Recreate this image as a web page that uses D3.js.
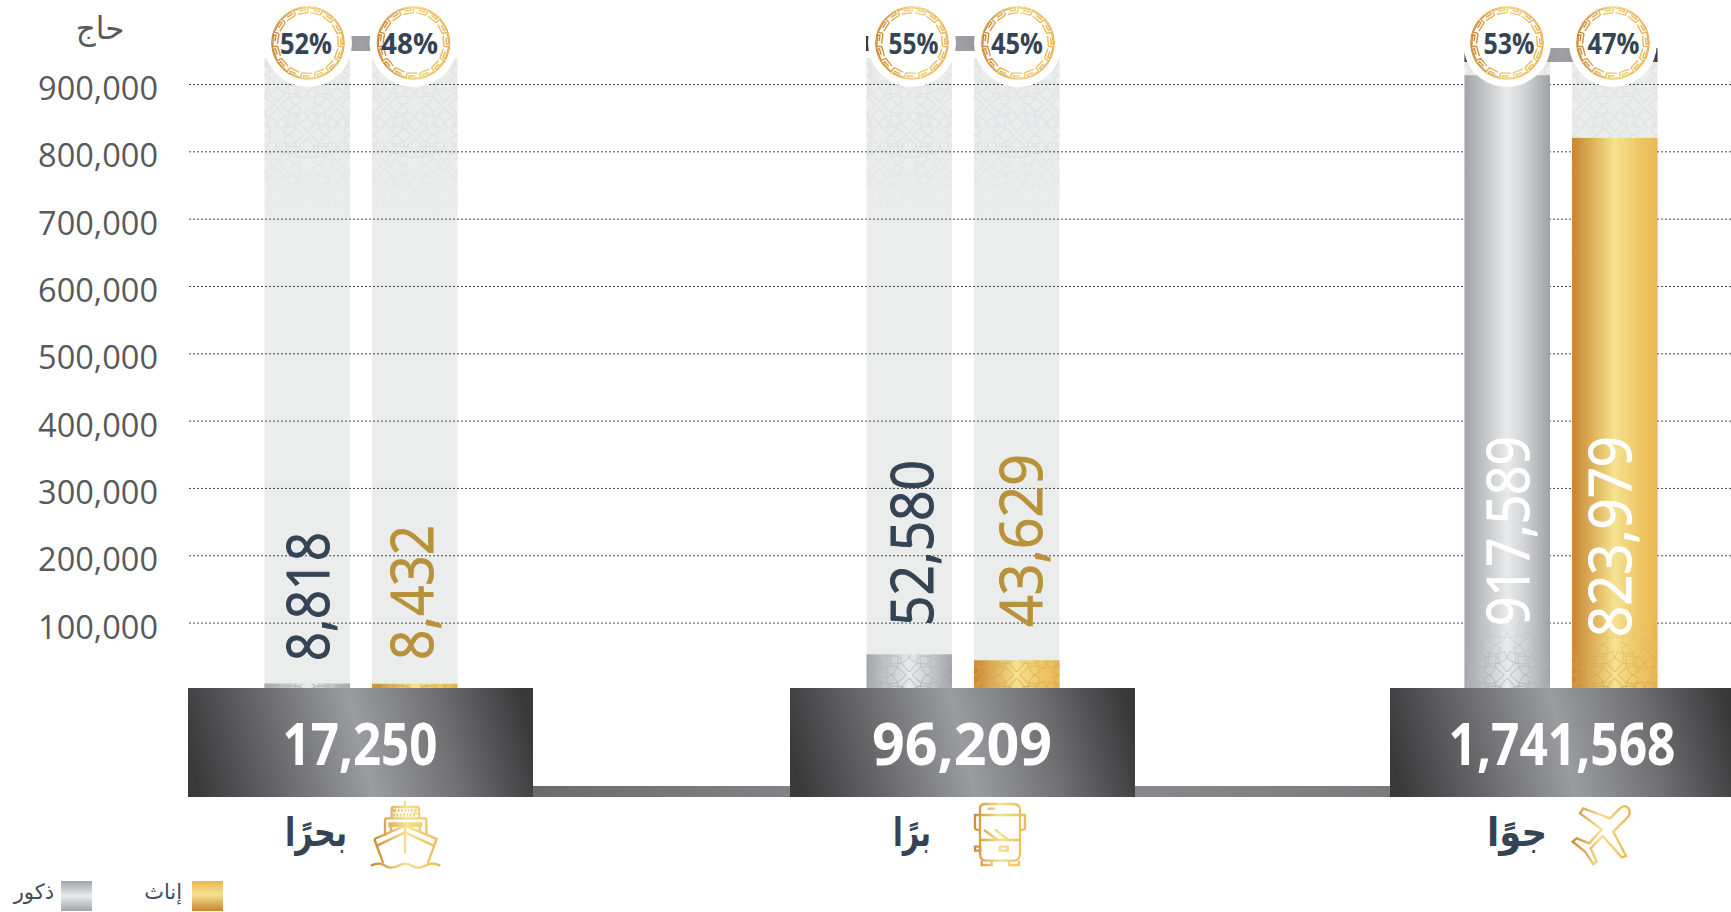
<!DOCTYPE html>
<html lang="ar">
<head>
    <meta charset="UTF-8">
    <title>الحجاج حسب منفذ القدوم</title>
    <script src="https://d3js.org/d3.v7.min.js"></script>
    <style>
        html, body { margin: 0; padding: 0; background: #fff; overflow: hidden; }
        svg { display: block; }
        text { font-family: "Open Sans", "DejaVu Sans", sans-serif; }
        .arabic { font-family: "DejaVu Sans", "Noto Sans", sans-serif; }
        .grid .domain { display: none; }
        .grid line { stroke: #4a4a4a; stroke-width: 1; stroke-dasharray: 2 2; }
        .grid text { font-size: 32.5px; fill: #58595b; }
    </style>
</head>
<body>
<div id="chart"></div>

<script>
    // Data
    const modes = ["sea", "land", "air"];
    const modeNames = ["بحرًا", "برًا", "جوًا"];
    const genders = ["male", "female"];
    const genderNames = ["ذكور", "إناث"];
    const maleValues = [8818, 52580, 917589];
    const femaleValues = [8432, 43629, 823979];
    const totals = [17250, 96209, 1741568];
    const malePct = [52, 55, 53];
    const femalePct = [48, 45, 47];
    const yTicks = [100000, 200000, 300000, 400000, 500000, 600000, 700000, 800000, 900000];
    const unitLabel = "حاج";

    const width = 1731, height = 912;
    const baseTop = 688, baseBottom = 797, baseWidth = 345;
    const fmt = d3.format(",");

    const svg = d3.select("#chart").append("svg").attr("width", width).attr("height", height);
    const defs = svg.append("defs");

    // y(900k) = 84, y(100k) = 622.6
    const y = d3.scaleLinear().domain([100000, 900000]).range([622.6, 84]);
    // the bars in the original sit a little off the printed grid
    const yBar = d3.scaleLinear().domain([0, 900000]).range([689.5, 87]);
    const xGroup = d3.scaleOrdinal().domain(modes).range([361, 963, 1561]);
    const xBar = d3.scaleBand().domain(genders).range([-96.5, 96.5]).paddingInner(22 / 107);

    function gradient(id, stops, attrs) {
        const g = defs.append("linearGradient").attr("id", id);
        Object.entries(attrs || {}).forEach(([k, v]) => g.attr(k, v));
        stops.forEach(s => g.append("stop").attr("offset", s[0]).attr("stop-color", s[1]));
    }

    const goldStops = [[0, "#c8842e"], [0.5, "#f5e290"], [0.78, "#efc766"], [1, "#ebb655"]];
    gradient("male", [[0, "#a3a4a7"], [0.5, "#e9eaeb"], [0.72, "#cfd0d2"], [1, "#a0a1a4"]]);
    gradient("female", goldStops);
    gradient("base", [[0, "#3a3a3b"], [0.25, "#6a6a6d"], [0.5, "#9b9ca0"], [0.75, "#707073"], [1, "#39393a"]],
        { x1: 0, y1: 0.54, x2: 1, y2: 0.46 });
    gradient("connector", [[0, "#6b6b6e"], [0.5, "#929296"], [1, "#7b7b7e"]]);
    gradient("strip", [[0, "#2e2e2f"], [0.03, "#77777a"], [0.5, "#a0a0a4"], [0.97, "#77777a"], [1, "#2e2e2f"]]);
    gradient("ring", [[0, "#c8802a"], [0.5, "#f0d27a"], [1, "#e8ae4c"]],
        { gradientUnits: "userSpaceOnUse", x1: -37, x2: 37, y1: 0, y2: 0 });
    gradient("legendMale", [[0, "#a3a4a7"], [0.5, "#e9eaeb"], [1, "#a3a4a7"]], { x1: 0, y1: 0, x2: 0, y2: 1 });
    gradient("legendFemale", [[0, "#ebb655"], [0.45, "#f5e290"], [1, "#c8842e"]], { x1: 0, y1: 0, x2: 0, y2: 1 });

    // fades for the ornament
    gradient("fadeTop", [[0, "#fff"], [0.55, "#fff"], [1, "#000"]],
        { gradientUnits: "userSpaceOnUse", x1: 0, x2: 0, y1: 58, y2: 215 });
    gradient("fadeBottom", [[0, "#000"], [1, "#fff"]],
        { gradientUnits: "userSpaceOnUse", x1: 0, x2: 0, y1: 612, y2: 685 });
    defs.append("mask").attr("id", "maskTop").attr("maskUnits", "userSpaceOnUse")
        .attr("x", -60).attr("y", 0).attr("width", 120).attr("height", height)
        .append("rect").attr("x", -60).attr("y", 0).attr("width", 120).attr("height", height).attr("fill", "url(#fadeTop)");
    defs.append("mask").attr("id", "maskBottom").attr("maskUnits", "userSpaceOnUse")
        .attr("x", -60).attr("y", 0).attr("width", 120).attr("height", height)
        .append("rect").attr("x", -60).attr("y", 0).attr("width", 120).attr("height", height).attr("fill", "url(#fadeBottom)");

    // star ornament, one tile with rosettes on the corners and in the middle
    function rosette(cx, cy) {
        let d = "";
        const star = d3.range(16).map(i => {
            const a = i * Math.PI / 8, r = i % 2 ? 7 : 13;
            return [cx + r * Math.sin(a), cy - r * Math.cos(a)];
        });
        d += "M" + star.join("L") + "Z";
        d3.range(8).forEach(i => {
            const a = i * Math.PI / 4, b = a + Math.PI / 8, c = a - Math.PI / 8;
            const p = (r, t) => [cx + r * Math.sin(t), cy - r * Math.cos(t)];
            d += "M" + p(13, a) + "L" + p(20, b) + "L" + p(27, a) + "L" + p(20, c) + "Z";
        });
        return d;
    }
    function ornament(id, color, width) {
        const p = defs.append("pattern").attr("id", id).attr("patternUnits", "userSpaceOnUse")
            .attr("width", 60).attr("height", 60)
            .attr("patternTransform", "translate(0,45)");
        [[0, 0], [60, 0], [0, 60], [60, 60], [30, 30]].forEach(c => {
            p.append("path").attr("d", rosette(c[0], c[1]))
                .attr("fill", "none").attr("stroke", color).attr("stroke-width", width);
        });
    }
    ornament("patBack", "#dfe1e3", 1.2);
    ornament("patMale", "#aeb2b7", 1);
    ornament("patFemale", "#d9a74e", 0.9);

    // light columns behind everything
    const groups = modes.map((m, i) => ({ mode: m, i: i, cx: xGroup(m) }));
    const bars = [];
    groups.forEach(g => {
        bars.push({ g: g, gender: "male", value: maleValues[g.i], pct: malePct[g.i], cx: g.cx + xBar("male") + xBar.bandwidth() / 2 });
        bars.push({ g: g, gender: "female", value: femaleValues[g.i], pct: femalePct[g.i], cx: g.cx + xBar("female") + xBar.bandwidth() / 2 });
    });

    const backs = svg.append("g").selectAll("g").data(bars).enter().append("g")
        .attr("transform", d => `translate(${d.cx},0)`);
    backs.append("rect")
        .attr("x", -xBar.bandwidth() / 2).attr("y", 58)
        .attr("width", xBar.bandwidth()).attr("height", baseTop - 58)
        .attr("fill", "#ebedec");
    backs.append("rect")
        .attr("x", -xBar.bandwidth() / 2).attr("y", 58)
        .attr("width", xBar.bandwidth()).attr("height", 160)
        .attr("fill", "url(#patBack)").attr("mask", "url(#maskTop)");

    // grid lines and tick labels
    const axis = d3.axisLeft(y).tickValues(yTicks).tickSize(-(width - 189)).tickPadding(31).tickFormat(fmt);
    const gridG = svg.append("g").attr("class", "grid").attr("transform", "translate(189,0)").call(axis);
    gridG.selectAll("text").attr("dy", "0.48em");

    svg.append("text").attr("class", "arabic")
        .attr("x", 100).attr("y", 39).attr("text-anchor", "middle")
        .attr("font-size", 31).attr("fill", "#58595b").text(unitLabel);

    // filled bars
    const fills = svg.append("g").selectAll("g").data(bars).enter().append("g")
        .attr("transform", d => `translate(${d.cx},0)`);
    fills.append("rect")
        .attr("x", -xBar.bandwidth() / 2).attr("y", d => yBar(d.value))
        .attr("width", xBar.bandwidth()).attr("height", d => baseTop - yBar(d.value))
        .attr("fill", d => `url(#${d.gender})`);
    fills.append("rect")
        .attr("x", -xBar.bandwidth() / 2).attr("y", d => yBar(d.value))
        .attr("width", xBar.bandwidth()).attr("height", d => baseTop - yBar(d.value))
        .attr("fill", d => d.gender === "male" ? "url(#patMale)" : "url(#patFemale)")
        .attr("mask", "url(#maskBottom)");

    // strip between the two percent badges
    const stripTop = [36, 36, 48];
    const stripHeight = [15, 15, 14];
    const stripLeft = [-90, -97, -96.5];
    const stripRight = [90, 90, 96.5];
    svg.append("g").selectAll("rect").data(groups).enter().append("rect")
        .attr("x", d => d.cx + stripLeft[d.i]).attr("y", d => stripTop[d.i])
        .attr("width", d => stripRight[d.i] - stripLeft[d.i]).attr("height", d => stripHeight[d.i])
        .attr("fill", "url(#strip)");

    // bases with the totals
    svg.append("rect").attr("x", 533).attr("y", 786).attr("width", 857).attr("height", 11).attr("fill", "url(#connector)");
    const baseCx = [360.5, 962.5, 1562.5];
    svg.append("g").selectAll("rect").data(groups).enter().append("rect")
        .attr("x", d => baseCx[d.i] - baseWidth / 2).attr("y", baseTop)
        .attr("width", baseWidth).attr("height", baseBottom - baseTop)
        .attr("fill", "url(#base)");
    const totalLen = [155, 180, 227];
    svg.append("g").selectAll("text").data(totals).enter().append("text")
        .attr("x", (d, i) => baseCx[i] - 0.5).attr("y", 765)
        .attr("text-anchor", "middle").attr("font-weight", 700).attr("font-size", 59)
        .attr("textLength", (d, i) => totalLen[i]).attr("lengthAdjust", "spacingAndGlyphs")
        .attr("fill", "#fff").text(d => fmt(d));

    // rotated bar values: baseline x, bottom y and length per label
    const labelX = [329, 433, 933, 1042, 1529, 1631];
    const labelY = [661, 660, 626, 627, 626, 637];
    const labelLen = [129, 135, 166, 173, 190, 201];
    const labelFill = ["#344454", "#b8923a", "#344454", "#b8923a", "#fff", "#fff"];
    svg.append("g").selectAll("text").data(bars).enter().append("text")
        .attr("transform", (d, i) => `translate(${labelX[i]},${labelY[i]}) rotate(-90)`)
        .attr("font-size", 59)
        .attr("textLength", (d, i) => labelLen[i]).attr("lengthAdjust", "spacingAndGlyphs")
        .attr("fill", (d, i) => labelFill[i])
        .attr("stroke", (d, i) => labelFill[i]).attr("stroke-width", 1)
        .text(d => fmt(d.value));

    // percent badges
    const ringLine = d3.lineRadial().angle(p => p[0]).radius(p => p[1]);
    function ringPath() {
        const n = 15, u = 2 * Math.PI / n;
        let d = "";
        d3.range(n).forEach(i => {
            const a = i * u;
            d += ringLine([[a, 30.5], [a, 35.5], [a + 0.82 * u, 35.5], [a + 0.82 * u, 33], [a + 0.38 * u, 33]]);
            d += ringLine([[a + 0.2 * u, 30.5], [a + 1.0 * u, 30.5]]);
        });
        return d;
    }
    const badgeX = [308, 413.5, 912, 1018, 1507, 1613];
    const badgeTextDx = [-2, -4, 1.5, -1, 2, 0.5];
    const badgeTextLen = [52, 57, 50, 52, 51, 52];
    const badges = svg.append("g").selectAll("g").data(bars).enter().append("g")
        .attr("transform", (d, i) => `translate(${badgeX[i]},43)`);
    badges.append("circle").attr("r", 44).attr("fill", "#fff");
    badges.append("path").attr("d", ringPath())
        .attr("fill", "none").attr("stroke", "url(#ring)").attr("stroke-width", 1.4);
    badges.append("circle").attr("r", 36.3).attr("fill", "none").attr("stroke", "url(#ring)").attr("stroke-width", 1);
    badges.append("text").attr("x", (d, i) => badgeTextDx[i]).attr("y", 11).attr("text-anchor", "middle")
        .attr("font-weight", 700).attr("font-size", 29)
        .attr("textLength", (d, i) => badgeTextLen[i]).attr("lengthAdjust", "spacingAndGlyphs")
        .attr("fill", "#344454").text(d => d.pct + "%");

    // category names
    const nameX = [316, 912, 1517];
    const nameLen = [62, 38, 60];
    svg.append("g").selectAll("text").data(modeNames).enter().append("text")
        .attr("class", "arabic")
        .attr("x", (d, i) => nameX[i]).attr("y", 846).attr("text-anchor", "middle")
        .attr("font-weight", 700).attr("font-size", 40)
        .attr("textLength", (d, i) => nameLen[i]).attr("lengthAdjust", "spacingAndGlyphs")
        .attr("fill", "#344454").text(d => d);

    // icons, traced in zoom coordinates (3x) of their own box
    function icon(id, x, y0, x1, x2, paths) {
        gradient(id, goldStops, { gradientUnits: "userSpaceOnUse", x1: x1, x2: x2, y1: 0, y2: 0 });
        const g = svg.append("g").attr("transform", `translate(${x},${y0}) scale(${1 / 3})`)
            .attr("fill", "none").attr("stroke", `url(#${id})`).attr("stroke-width", 7);
        paths.forEach(d => g.append("path").attr("d", d));
        return g;
    }
    const ship = icon("goldShip", 365, 795, 20, 230, [
        "M120 17V35",
        "M80 70V42Q80 36 86 36H156Q162 36 162 42V70",
        "M60 122V76Q60 70 66 70H178Q184 70 184 76V122",
        "M28 132L120 92L215 132L188 205",
        "M28 132L55 205",
        "M36 152L120 112L206 152",
        "M120 92V175",
        "M18 212Q42 200 60 212T100 212T140 212T180 212T226 212"
    ]);
    ship.append("path").attr("d", "M88 46H152V60H88Z").attr("stroke-dasharray", "6 4").attr("stroke-width", 10);
    ship.append("path").attr("d", "M70 82H172V96H70Z").attr("fill", "url(#goldShip)").attr("stroke", "none");
    ship.append("path").attr("d", "M78 96V108M164 96V108").attr("stroke-width", 8);

    icon("goldBus", 965, 800, 20, 190, [
        "M45 25Q45 12 62 12H145Q165 12 165 30V160Q165 182 145 182H62Q45 182 45 160Z",
        "M45 45H165",
        "M45 120H165",
        "M45 45H30V85Q30 90 45 90",
        "M165 45H180V85Q180 90 165 90",
        "M68 26H90",
        "M90 88L130 120",
        "M57 90L98 120",
        "M30 140H46V152H30Z",
        "M104 140H128V152H104Z",
        "M50 182V195H80V182",
        "M132 182V195H162V182"
    ]);

    icon("goldPlane", 1380, 600, 575, 750, [
        "M740 620Q755 630 745 650L700 695L738 768L725 772L668 708L632 745L650 785L640 792L615 755L578 725L590 715L628 730L665 688L600 640L610 625L690 655L720 625Q730 615 740 620Z"
    ]);

    // legend
    const legendSwatchX = [61, 192];
    const legendTextX = [54, 182];
    svg.append("g").selectAll("rect").data(genders).enter().append("rect")
        .attr("x", (d, i) => legendSwatchX[i]).attr("y", 881).attr("width", 31).attr("height", 30)
        .attr("fill", d => d === "male" ? "url(#legendMale)" : "url(#legendFemale)");
    svg.append("g").selectAll("text").data(genderNames).enter().append("text")
        .attr("class", "arabic")
        .attr("x", (d, i) => legendTextX[i]).attr("y", 899).attr("text-anchor", "end")
        .attr("font-size", 21).attr("fill", "#3f4d5c").text(d => d);
</script>
</body>
</html>
